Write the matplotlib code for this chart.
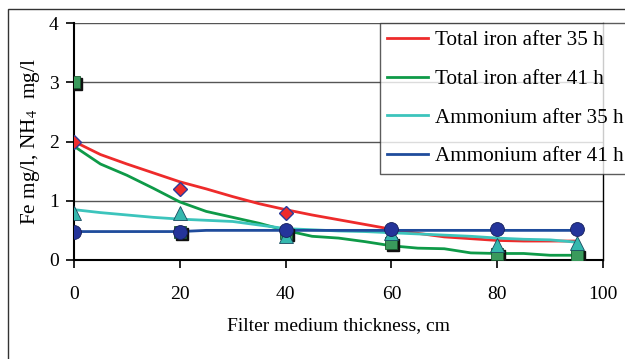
import matplotlib
matplotlib.use("Agg")
import matplotlib.pyplot as plt
from matplotlib.patches import Rectangle
import matplotlib.transforms as mtransforms

plt.rcParams['font.family'] = ['Liberation Serif', 'DejaVu Serif']
plt.rcParams['mathtext.fontset'] = 'stix'

# ---- data ----
line_x = [0, 5, 10, 15, 20, 25, 30, 35, 40, 45, 50, 55, 60, 65, 70, 75, 80, 85, 90, 95]
iron35_line = [2.0, 1.78, 1.62, 1.47, 1.32, 1.2, 1.07, 0.95, 0.85, 0.76, 0.68, 0.6, 0.52, 0.45, 0.39, 0.36, 0.33, 0.32, 0.32, 0.32]
iron41_line = [1.92, 1.62, 1.43, 1.21, 0.98, 0.82, 0.72, 0.62, 0.5, 0.4, 0.37, 0.31, 0.24, 0.2, 0.19, 0.12, 0.11, 0.11, 0.08, 0.08]
amm35_line = [0.85, 0.8, 0.76, 0.72, 0.69, 0.67, 0.65, 0.59, 0.53, 0.51, 0.49, 0.48, 0.46, 0.44, 0.42, 0.4, 0.37, 0.35, 0.34, 0.3]
amm41_line = [0.48, 0.48, 0.48, 0.48, 0.48, 0.5, 0.5, 0.5, 0.5, 0.5, 0.5, 0.5, 0.5, 0.5, 0.5, 0.5, 0.5, 0.5, 0.5, 0.5]

iron35_px = [0, 20, 40]
iron35_py = [2.0, 1.2, 0.8]
pts_x = [0, 20, 40, 60, 80, 95]
iron41_py = [3.0, 0.48, 0.45, 0.29, 0.1, 0.08]
amm35_py = [0.8, 0.8, 0.4, 0.45, 0.25, 0.28]
amm41_py = [0.48, 0.48, 0.5, 0.52, 0.52, 0.52]

labels = ["Total iron after 35 h", "Total iron after 41 h",
          "Ammonium after 35 h", "Ammonium after 41 h"]
colors = ["#ee2b2b", "#0e9a48", "#3cc4bc", "#1f4c9c"]

W, H = 625, 359
fig = plt.figure(figsize=(W / 100, H / 100), dpi=100)
ax = fig.add_axes([74 / W, 1 - 260 / H, (603 - 74) / W, (260 - 23) / H])

# outer frame
fig.add_artist(Rectangle((8 / W, -0.1), 1.2, 1 - 9 / H + 0.1, transform=fig.transFigure,
                         fill=False, edgecolor='#333333', lw=1.0))

for y in [1, 2, 3, 4]:
    ax.axhline(y, color='#555555', lw=1.0, zorder=1)

lines = []
for ys, c, lab in zip([iron35_line, iron41_line, amm35_line, amm41_line], colors, labels):
    l, = ax.plot(line_x, ys, color=c, lw=2.0, label=lab, zorder=2)
    lines.append(l)

shadow = mtransforms.offset_copy(ax.transData, fig=fig, x=2, y=-2, units='dots')
ax.plot(pts_x, iron41_py, ls='none', marker='s', ms=8.5, color='#111111', transform=shadow, zorder=3)
ax.plot(pts_x, iron41_py, ls='none', marker='s', ms=8.5, mfc='#3a9a5c', mec='#1a5a30', mew=0.6, zorder=4)
ax.plot(pts_x, amm35_py, ls='none', marker='^', ms=10, mfc='#35b8ae', mec='#1a4a60', mew=0.6, zorder=5)
ax.plot(pts_x, amm41_py, ls='none', marker='o', ms=10, mfc='#24349a', mec='#16205a', mew=0.6, zorder=6)
ax.plot(iron35_px, iron35_py, ls='none', marker='D', ms=7.5, mfc='#ee2b2b', mec='#2b3a9a', mew=1.0, zorder=7)

ax.set_xlim(0, 100)
ax.set_ylim(0, 4)
ax.set_xticks([0, 20, 40, 60, 80, 100])
ax.set_yticks([0, 1, 2, 3, 4])
ax.spines['top'].set_visible(False)
for s in ['left', 'bottom']:
    ax.spines[s].set_linewidth(1.5)
ax.spines['right'].set_linewidth(1.0)
ax.tick_params(axis='x', direction='out', length=6, width=1.2, pad=13, labelsize=14)
ax.tick_params(axis='y', direction='out', length=6, width=1.2, pad=5, labelsize=14)

ax.set_xlabel("Filter medium thickness, cm", fontsize=14, labelpad=10)
ax.set_ylabel("Fe mg/l, NH$_4$  mg/l", fontsize=15.3, labelpad=5)

leg = fig.legend(handles=lines, loc='upper left', bbox_to_anchor=(380 / W, 1 - 23 / H),
                 fontsize=15.2, frameon=True, fancybox=False, borderaxespad=0,
                 handlelength=1.9, handletextpad=0.35, labelspacing=0.9, borderpad=0.35)
leg.get_frame().set_edgecolor('#333333')
leg.get_frame().set_linewidth(1.0)

fig.savefig("out.png", dpi=100)
